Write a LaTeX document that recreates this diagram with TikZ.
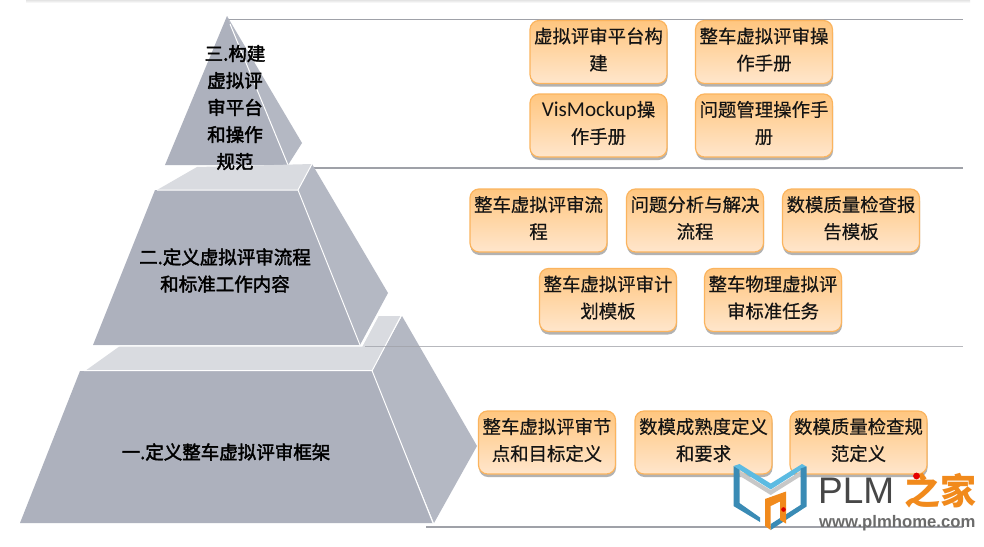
\documentclass[tikz,border=0pt]{standalone}
\usepackage{fontspec}
\setmainfont{Noto Sans CJK SC}
\newfontfamily\latinfont[Scale=1.15]{Carlito}
\newfontfamily\logofont{Liberation Sans}
\newfontfamily\tierfont[FakeBold=2.2]{Noto Sans CJK SC}
\newfontfamily\boxfont[FakeBold=0.4]{Noto Sans CJK SC}
\usetikzlibrary{shadows,fadings}
\definecolor{frontc}{HTML}{ADB1BD}
\definecolor{sidec}{HTML}{B4B8C3}
\definecolor{topc}{HTML}{D9DBE0}
\definecolor{linec}{HTML}{9FA1A8}
\definecolor{boxedge}{HTML}{FBB45E}
\definecolor{boxtop}{HTML}{FFC67F}
\definecolor{boxbot}{HTML}{FFE6CC}
\definecolor{logoblue}{HTML}{3A8BB5}
\definecolor{logolight}{HTML}{5CBBE2}
\definecolor{logoorange}{HTML}{F18A1C}
\tikzset{
  front/.style={fill=frontc,draw=none},
  sideface/.style={fill=sidec,draw=none},
  topface/.style={fill=topc,draw=none},
  ridge/.style={draw=white,line width=1pt},
  guide/.style={draw=linec,line width=1.4pt},
  taskbox/.style={rectangle,rounded corners=9pt,draw=boxedge,line width=1.2pt,
    top color=boxtop,bottom color=boxbot,minimum width=137pt,minimum height=63pt,
    inner sep=0pt,align=center,text=black!92,
    font=\boxfont\fontsize{18.4}{27}\selectfont,
    execute at end node={\rule[-6.5pt]{0pt}{6.5pt}},
    drop shadow={shadow xshift=0.5pt,shadow yshift=-3pt,opacity=.5,fill=black!60}},
  tier/.style={align=center,text=black,inner sep=0pt,
    font=\tierfont\fontsize{18.5}{27}\selectfont}
}
\begin{document}
\begin{tikzpicture}[x=1pt,y=-1pt]
\useasboundingbox (0,0) rectangle (984,546);
\fill[white] (0,0) rectangle (984,546);
% top page shadow
\fill[top color=black!14,bottom color=white] (26,-1) rectangle (970,3);
% guide lines
\coordinate (g1a) at (227,19.5); \coordinate (g1b) at (963,19.5);
\coordinate (g2a) at (288,168); \coordinate (g2b) at (963,168);
\coordinate (g4a) at (426,527); \coordinate (g4b) at (963,527);
\draw[guide] (g1a) -- (g1b);
\draw[guide] (g2a) -- (g2b);
\draw[guide] (g4a) -- (g4b);
% tier 3
\fill[sideface] (227,16) -- (302,143) -- (288,165) -- cycle;
\fill[front] (227,16) -- (288,165) -- (165,165) -- cycle;
\draw[ridge] (230,24) -- (288,165);
% tier 2
\fill[topface] (157,190) -- (197,167) -- (312,164) -- (298,190) -- cycle;
\fill[sideface] (298,190) -- (312,164) -- (388,293) -- (360,345) -- cycle;
\fill[front] (155,190) -- (298,190) -- (360,345) -- (93,345) -- cycle;
\draw[ridge] (157,190) -- (298,190) -- (360,345);
\draw[ridge] (298,190) -- (312,164);
% tier 1
\fill[topface] (85,371) -- (120,346) -- (362,346) -- (378,316) -- (401,316) -- (372,371) -- cycle;
\fill[sideface] (372,371) -- (402,316) -- (477,446) -- (434,523) -- cycle;
\fill[front] (80,371) -- (372,371) -- (433,523) -- (20,523) -- cycle;
\draw[ridge] (84,370.5) -- (372,370.5) -- (433,523);
\draw[ridge] (372,371) -- (401,316);
\draw[ridge] (93,346) -- (362,346) -- (378,316);
% guide over tier 1
\coordinate (g3a) at (365,346.5); \coordinate (g3b) at (963,346.5);
\draw[guide,opacity=.75] (g3a) -- (g3b);
% tier labels
\node[tier] (t3) at (235,107.5) {三.构建\\虚拟评\\审平台\\和操作\\规范};
\node[tier] (t2) at (225,270.5) {二.定义虚拟评审流程\\和标准工作内容};
\node[tier] (t1) at (226,452) {一.定义整车虚拟评审框架};
% task boxes
\node[taskbox] (b1) at (598.5,52) {虚拟评审平台构\\建};
\node[taskbox] (b2) at (764,52) {整车虚拟评审操\\作手册};
\node[taskbox] (b3) at (598.5,125.5) {{\latinfont VisMockup}操\\作手册};
\node[taskbox] (b4) at (764,125.5) {问题管理操作手\\册};
\node[taskbox] (b5) at (538.5,220.5) {整车虚拟评审流\\程};
\node[taskbox] (b6) at (695,220.5) {问题分析与解决\\流程};
\node[taskbox] (b7) at (851,220.5) {数模质量检查报\\告模板};
\node[taskbox] (b8) at (608,300) {整车虚拟评审计\\划模板};
\node[taskbox] (b9) at (773,300) {整车物理虚拟评\\审标准任务};
\node[taskbox] (b10) at (547,442.5) {整车虚拟评审节\\点和目标定义};
\node[taskbox] (b11) at (703.5,442.5) {数模成熟度定义\\和要求};
\node[taskbox] (b12) at (858.5,442.5) {数模质量检查规\\范定义};
% logo
\fill[black!22] (740,471) -- (770.7,490) -- (801,471) -- (801,476) -- (770.7,495) -- (740,476) -- cycle;
\fill[logoblue] (733.5,466) -- (739.5,469) -- (739.5,503) -- (760,517.5) -- (760,522) -- (733.5,506) -- cycle;
\fill[logolight] (733.5,466) -- (739.5,464) -- (770.7,483.5) -- (802,464) -- (806.5,466.5) -- (770.7,489.5) -- cycle;
\fill[logoblue] (800.5,468.5) -- (806.5,466.5) -- (806.5,506.5) -- (770.7,530) -- (770.7,524) -- (800.5,505) -- cycle;
\fill[logoorange] (765,499) -- (786,491.5) -- (786,523.5) -- (780,520) -- (780,501.5) -- (770.7,506) -- (770.7,530) -- (765,526) -- cycle;
\fill[red!85!black] (783.5,509.5) circle (2.3);
\node[inner sep=0pt,text=black!72,anchor=base west,font=\logofont\fontsize{37}{37}\selectfont] (plm) at (818,503) {PLM};
\node[inner sep=0pt,text=logoorange,anchor=base west,font=\fontsize{36}{36}\selectfont\bfseries] (zj) at (904,504) {之家};
\fill[red!90!black] (916.5,476) circle (3.4);
\node[inner sep=0pt,text=black!58,anchor=base west,font=\logofont\fontsize{16.7}{16.7}\selectfont\bfseries] (url) at (819,527) {www.plmhome.com};
\end{tikzpicture}
\end{document}
